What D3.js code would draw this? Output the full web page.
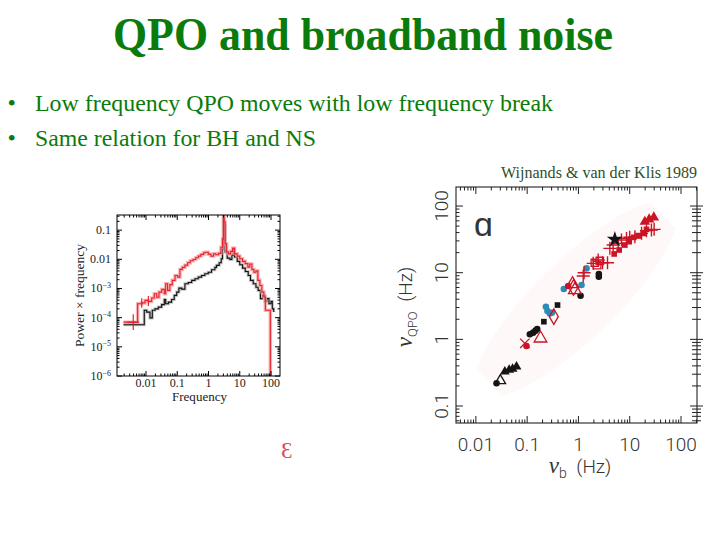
<!DOCTYPE html>
<html><head><meta charset="utf-8">
<script src="https://cdn.jsdelivr.net/npm/d3@7"></script>
<style>html,body{margin:0;padding:0;background:#fff}svg{display:block}</style>
</head><body>
<svg id="c" width="720" height="540"></svg>
<script>
// ---------- slide text ----------
const titleText = "QPO and broadband noise";
const bulletTexts = ["Low frequency QPO moves with low frequency break", "Same relation for BH and NS"];
const citationText = "Wijnands & van der Klis 1989";

// ---------- left panel: power spectra ----------
const specFreqTicks = [0.01, 0.1, 1, 10, 100];
const specFreqTickLabels = ["0.01", "0.1", "1", "10", "100"];
const specPowerTicks = [1e-6, 1e-5, 1e-4, 1e-3, 0.01, 0.1];
const specPowerTickLabels = ["10^-6", "10^-5", "10^-4", "10^-3", "0.01", "0.1"];
const specXLabel = "Frequency";
const specYLabel = "Power \u00d7 frequency";

const blackFreq = [0.0019, 0.0088, 0.0105, 0.0134, 0.0159, 0.0194, 0.0248, 0.0317, 0.0385, 0.0425, 0.052, 0.066, 0.08, 0.096, 0.113, 0.138, 0.176, 0.225, 0.29, 0.37, 0.47, 0.6, 0.76, 0.98, 1.25, 1.6, 1.8, 2.2, 2.55, 2.8, 3.0, 3.15, 3.4, 3.97, 4.85, 5.6, 6.2, 6.8, 8.3, 10, 12.3, 15, 18.6, 22, 27, 33, 38.7, 46, 53.6, 63.6, 73, 86, 100, 110, 122];
const blackPower = [5.7e-5, 1.8e-4, 1.55e-4, 9.8e-5, 1.8e-4, 2.0e-4, 2.3e-4, 2.8e-4, 4.2e-4, 3.0e-4, 3.4e-4, 4.2e-4, 5.8e-4, 7.5e-4, 1.03e-3, 9.5e-4, 1.45e-3, 1.6e-3, 1.9e-3, 2.15e-3, 2.45e-3, 2.8e-3, 3.2e-3, 3.6e-3, 4.4e-3, 5.3e-3, 6.2e-3, 7.6e-3, 0.0104, 0.0229, 0.24, 0.144, 0.0177, 0.011, 0.0099, 0.0136, 0.024, 0.012, 0.0085, 6.5e-3, 5.0e-3, 3.8e-3, 2.8e-3, 1.9e-3, 1.45e-3, 1.1e-3, 8.6e-4, 4.5e-4, 5.8e-4, 3.6e-4, 4.5e-4, 3.0e-4, 3.6e-4, 2.0e-4, 1.55e-4];

const redFreq = [0.0019, 0.0054, 0.0073, 0.0093, 0.0119, 0.0152, 0.0184, 0.022, 0.026, 0.032, 0.0385, 0.0425, 0.049, 0.058, 0.069, 0.085, 0.103, 0.122, 0.145, 0.176, 0.215, 0.26, 0.32, 0.39, 0.47, 0.57, 0.70, 0.8, 0.98, 1.2, 1.45, 1.7, 2.1, 2.5, 2.8, 3.0, 3.15, 3.4, 3.8, 4.4, 5.1, 5.9, 6.8, 8.3, 10, 12.3, 15, 18.2, 21, 24.5, 28.4, 33, 38, 44, 51, 59, 66, 95, 96];
const redPower = [7e-5, 3e-4, 3.2e-4, 3.9e-4, 3.6e-4, 4.7e-4, 6.6e-4, 5.0e-4, 7.5e-4, 9.3e-4, 6.6e-4, 1.45e-3, 8.6e-4, 1.35e-3, 1.9e-3, 2.8e-3, 2.45e-3, 4.5e-3, 5.3e-3, 6.3e-3, 7.6e-3, 8.9e-3, 9.9e-3, 0.0113, 0.0129, 0.0147, 0.0167, 0.0175, 0.015, 0.0129, 0.0155, 0.0143, 0.016, 0.026, 0.05, 0.4, 0.19, 0.034, 0.0177, 0.0154, 0.0187, 0.024, 0.0154, 0.0129, 0.0104, 0.0085, 7.1e-3, 5.4e-3, 6.9e-3, 4.5e-3, 3.6e-3, 4.0e-3, 1.9e-3, 1.27e-3, 7.5e-4, 5.1e-4, 1.8e-4, 3e-7, 3e-7];

const redErrFreq = [0.0039, 0.0073, 0.0119];
const redErrLo = [3.8e-5, 2.2e-4, 2.5e-4];
const redErrHi = [1.3e-4, 4.6e-4, 5.5e-4];

// ---------- right panel: nu_QPO vs nu_b ----------
const nubTicks = [0.01, 0.1, 1, 10, 100];
const nubTickLabels = ["0.01", "0.1", "1", "10", "100"];
const nuqTicks = [0.1, 1, 10, 100];
const nuqTickLabels = ["0.1", "1", "10", "100"];
const panelLetter = "\u0251";

const blackCircleB = [0.0253, 0.113, 0.131, 0.146, 0.157, 1.1, 2.5, 2.5];
const blackCircleQ = [0.219, 1.19, 1.26, 1.35, 1.43, 4.52, 8.7, 9.55];
const blackOpenTriB = [0.030];
const blackOpenTriQ = [0.24];
const blackTriB = [0.0367, 0.0446, 0.052, 0.062];
const blackTriQ = [0.327, 0.347, 0.359, 0.389];
const blackSquareB = [0.212, 0.391];
const blackSquareQ = [1.84, 3.27];
const blackStarB = [5.13];
const blackStarQ = [31.6];
const blueCircleB = [0.232, 0.249, 0.277, 0.303, 0.519, 1.15, 1.44];
const blueCircleQ = [3.09, 2.66, 2.45, 2.51, 5.69, 6.53, 11.6];
const redCircleB = [0.097, 0.631];
const redCircleQ = [0.794, 6.31];
const redAsteriskB = [0.090];
const redAsteriskQ = [0.871];
const redOpenTriB = [0.182, 0.766, 0.851];
const redOpenTriQ = [1.035, 6.76, 5.5];
const redOpenDiamondB = [0.331, 0.80];
const redOpenDiamondQ = [2.19, 6.0];
const redOpenSquareB = [2.09, 2.32, 2.61];
const redOpenSquareQ = [14.1, 13.0, 15.0];
const redPlusB = [1.24, 1.29, 1.94, 2.43, 2.95, 3.69, 4.1, 4.75, 5.96, 6.9, 8.65, 10, 12.6, 17, 21.2, 26.5, 29.9];
const redPlusQ = [8.9, 10, 13.8, 15.5, 14.1, 14.1, 23.2, 26, 27.5, 31, 32.7, 34, 34.7, 38.9, 42.7, 43.7, 44.7];
const redSquareB = [4.97, 6.22, 8.03, 9.75, 12, 14.6, 18.3, 21.2];
const redSquareQ = [19.1, 21.9, 26, 29.2, 33.9, 35.5, 38.9, 44.7];
const redTriB = [19.7, 23.9, 29.5];
const redTriQ = [58.2, 63, 67.6];

// ================= drawing =================
const svg = d3.select("#c");
const GREEN = "#0b7b0b";
const SERIF = "'Liberation Serif','Times New Roman',serif";
const SANS = "Roboto,'Liberation Sans',Arial,sans-serif";

// title & bullets
svg.append("text").attr("x", 113).attr("y", 50)
  .attr("font-family", SERIF).attr("font-weight", "bold").attr("font-size", 46)
  .attr("fill", GREEN).attr("textLength", 500).attr("lengthAdjust", "spacingAndGlyphs")
  .text(titleText);
const bulletBase = [111, 146];
const bulletLen = [518, 281];
bulletTexts.forEach((t, i) => {
  svg.append("text").attr("x", 7.5).attr("y", bulletBase[i]).attr("font-family", SERIF)
    .attr("font-size", 24).attr("fill", GREEN).text("\u2022");
  svg.append("text").attr("x", 35).attr("y", bulletBase[i]).attr("font-family", SERIF)
    .attr("font-size", 24).attr("fill", GREEN).attr("textLength", bulletLen[i])
    .attr("lengthAdjust", "spacingAndGlyphs").text(t);
});
svg.append("text").attr("x", 501).attr("y", 178).attr("font-family", SERIF)
  .attr("font-size", 16).attr("fill", "#2d4f2d").attr("textLength", 196)
  .attr("lengthAdjust", "spacingAndGlyphs").text(citationText);

function isMajor(v) { const l = Math.log10(v); return Math.abs(l - Math.round(l)) < 1e-6; }

// ---------- left panel ----------
const lx = d3.scaleLog().domain([0.00118, 194]).range([117, 280]);
const ly = d3.scaleLog().domain([1e-6, 0.33]).range([376, 215]);
const lp = svg.append("g");
lp.append("clipPath").attr("id", "lclip").append("rect")
  .attr("x", 117).attr("y", 215).attr("width", 163).attr("height", 161);

const stepLine = d3.line().x(d => lx(d[0])).y(d => ly(d[1])).curve(d3.curveStepAfter);
const blackData = blackFreq.map((f, i) => [f, blackPower[i]]);
const redData = redFreq.map((f, i) => [f, redPower[i]]);
const cg = lp.append("g").attr("clip-path", "url(#lclip)");
cg.append("path").attr("d", stepLine(blackData)).attr("fill", "none")
  .attr("stroke", "#9a9a9a").attr("stroke-width", 3).attr("stroke-opacity", 0.6);
cg.append("path").attr("d", stepLine(blackData)).attr("fill", "none")
  .attr("stroke", "#111").attr("stroke-width", 1.1);
cg.append("path").attr("d", stepLine(redData)).attr("fill", "none")
  .attr("stroke", "#f49a9e").attr("stroke-width", 3.5).attr("stroke-opacity", 0.75);
cg.append("path").attr("d", stepLine(redData)).attr("fill", "none")
  .attr("stroke", "#e8202a").attr("stroke-width", 1.1);
redErrFreq.forEach((f, i) => {
  cg.append("line").attr("x1", lx(f)).attr("x2", lx(f))
    .attr("y1", ly(redErrLo[i])).attr("y2", ly(redErrHi[i]))
    .attr("stroke", "#e8202a").attr("stroke-width", 1.2);
});
cg.append("line").attr("x1", lx(redErrFreq[0]) - 6).attr("x2", lx(redErrFreq[0]) + 6)
  .attr("y1", ly(7e-5)).attr("y2", ly(7e-5)).attr("stroke", "#e8202a").attr("stroke-width", 1.2);

// left frame & ticks
lp.append("rect").attr("x", 117).attr("y", 215).attr("width", 163).attr("height", 161)
  .attr("fill", "none").attr("stroke", "#000").attr("stroke-width", 1);
lx.ticks().forEach(v => {
  const x = lx(v), len = isMajor(v) ? 5 : 2.5;
  lp.append("line").attr("x1", x).attr("x2", x).attr("y1", 376).attr("y2", 376 - len).attr("stroke", "#000");
  lp.append("line").attr("x1", x).attr("x2", x).attr("y1", 215).attr("y2", 215 + len).attr("stroke", "#000");
});
ly.ticks().forEach(v => {
  const y = ly(v), len = isMajor(v) ? 5 : 2.5;
  lp.append("line").attr("x1", 117).attr("x2", 117 + len).attr("y1", y).attr("y2", y).attr("stroke", "#000");
  lp.append("line").attr("x1", 280).attr("x2", 280 - len).attr("y1", y).attr("y2", y).attr("stroke", "#000");
});
specFreqTicks.forEach((v, i) => {
  lp.append("text").attr("x", lx(v)).attr("y", 387).attr("text-anchor", "middle")
    .attr("font-family", SERIF).attr("font-size", 12).attr("fill", "#222").text(specFreqTickLabels[i]);
});
specPowerTicks.forEach((v, i) => {
  const lab = specPowerTickLabels[i];
  const t = lp.append("text").attr("x", 111).attr("y", ly(v) + 4).attr("text-anchor", "end")
    .attr("font-family", SERIF).attr("font-size", 12).attr("fill", "#222");
  if (lab.includes("^")) {
    const [b, e] = lab.split("^");
    t.append("tspan").text(b);
    t.append("tspan").attr("dy", -4.5).attr("font-size", 8).text(e.replace("-", "\u2212"));
  } else t.text(lab);
});
lp.append("text").attr("x", 199.5).attr("y", 401).attr("text-anchor", "middle")
  .attr("font-family", SERIF).attr("font-size", 12).attr("fill", "#222")
  .attr("textLength", 55).attr("lengthAdjust", "spacingAndGlyphs").text(specXLabel);
lp.append("text").attr("transform", "translate(84,295.5) rotate(-90)").attr("text-anchor", "middle")
  .attr("font-family", SERIF).attr("font-size", 12.5).attr("fill", "#222")
  .attr("textLength", 103).attr("lengthAdjust", "spacingAndGlyphs").text(specYLabel);

// small red glyph below left panel
svg.append("text").attr("x", 281).attr("y", 458).attr("font-family", SERIF)
  .attr("font-size", 23).attr("fill", "#d9505c").text("\u0190");

// ---------- right panel ----------
const rx = d3.scaleLog().domain([0.0041, 205]).range([456, 697]);
const ry = d3.scaleLog().domain([0.0556, 193]).range([423, 187]);
const rp = svg.append("g");
rp.append("clipPath").attr("id", "rclip").append("rect")
  .attr("x", 456).attr("y", 187).attr("width", 241).attr("height", 236);
// faint background band
rp.append("ellipse").attr("clip-path", "url(#rclip)")
  .attr("cx", rx(0.9)).attr("cy", ry(4)).attr("rx", 135).attr("ry", 40)
  .attr("transform", `rotate(-44 ${rx(0.9)} ${ry(4)})`).attr("fill", "#fef8f8");

rp.append("rect").attr("x", 456).attr("y", 187).attr("width", 241).attr("height", 236)
  .attr("fill", "none").attr("stroke", "#222").attr("stroke-width", 1.1);
rx.ticks().forEach(v => {
  const x = rx(v), len = isMajor(v) ? 7 : 3.5;
  rp.append("line").attr("x1", x).attr("x2", x).attr("y1", 423).attr("y2", 423 - len).attr("stroke", "#222");
  rp.append("line").attr("x1", x).attr("x2", x).attr("y1", 187).attr("y2", 187 + len).attr("stroke", "#222");
});
ry.ticks().forEach(v => {
  const y = ry(v), maj = isMajor(v), len = maj ? 7 : 3.5;
  rp.append("line").attr("x1", 456).attr("x2", 456 + len).attr("y1", y).attr("y2", y).attr("stroke", "#222");
  rp.append("line").attr("x1", maj ? 690 : 692).attr("x2", maj ? 703 : 701).attr("y1", y).attr("y2", y).attr("stroke", "#222");
});
nubTicks.forEach((v, i) => {
  rp.append("text").attr("x", rx(v)).attr("y", 451).attr("text-anchor", "middle")
    .attr("font-family", SANS).attr("font-weight", 300).attr("font-size", 19).attr("fill", "#333")
    .text(nubTickLabels[i]);
});
nuqTicks.forEach((v, i) => {
  rp.append("text").attr("transform", `translate(447.5,${ry(v)}) rotate(-90)`).attr("text-anchor", "middle")
    .attr("font-family", SANS).attr("font-weight", 300).attr("font-size", 19).attr("fill", "#333")
    .text(nuqTickLabels[i]);
});
// axis titles
const yt = rp.append("text").attr("transform", "translate(412,307) rotate(-90)").attr("text-anchor", "middle")
  .attr("font-family", SANS).attr("font-weight", 300).attr("font-size", 19).attr("fill", "#333");
yt.append("tspan").attr("font-family", SERIF).attr("font-style", "italic").attr("font-size", 23).text("\u03bd");
yt.append("tspan").attr("dy", 5).attr("font-size", 13).text("QPO");
yt.append("tspan").attr("dy", -5).text("\u2002(Hz)");
const xt = rp.append("text").attr("x", 580).attr("y", 473).attr("text-anchor", "middle")
  .attr("font-family", SANS).attr("font-weight", 300).attr("font-size", 19).attr("fill", "#333");
xt.append("tspan").attr("font-family", SERIF).attr("font-style", "italic").attr("font-size", 23).text("\u03bd");
xt.append("tspan").attr("dy", 5).attr("font-size", 14).text("b");
xt.append("tspan").attr("dy", -5).text("\u2002(Hz)");
rp.append("text").attr("x", 474).attr("y", 236).attr("font-family", SANS).attr("font-weight", 300)
  .attr("font-size", 34).attr("fill", "#333").text(panelLetter);

// markers
const RED = "#cc1424", BLUE = "#2b8cb8", BLK = "#151515";
const groups = [
  {b: blueCircleB, q: blueCircleQ, type: d3.symbolCircle, size: 34, fill: BLUE},
  {b: blackCircleB, q: blackCircleQ, type: d3.symbolCircle, size: 34, fill: BLK},
  {b: blackOpenTriB, q: blackOpenTriQ, type: d3.symbolTriangle, size: 48, stroke: BLK},
  {b: blackTriB, q: blackTriQ, type: d3.symbolTriangle, size: 42, fill: BLK},
  {b: blackSquareB, q: blackSquareQ, type: d3.symbolSquare, size: 32, fill: BLK},
  {b: redCircleB, q: redCircleQ, type: d3.symbolCircle, size: 34, fill: RED},
  {b: redAsteriskB, q: redAsteriskQ, type: d3.symbolX, size: 60, stroke: RED},
  {b: redOpenTriB, q: redOpenTriQ, type: d3.symbolTriangle, size: 70, stroke: RED},
  {b: redOpenDiamondB, q: redOpenDiamondQ, type: d3.symbolDiamond, size: 70, stroke: RED},
  {b: redOpenSquareB, q: redOpenSquareQ, type: d3.symbolSquare, size: 55, stroke: RED},
  {b: redSquareB, q: redSquareQ, type: d3.symbolSquare, size: 32, fill: RED},
  {b: redPlusB, q: redPlusQ, type: d3.symbolCross, size: 0, plus: true, stroke: RED},
  {b: redTriB, q: redTriQ, type: d3.symbolTriangle, size: 48, fill: RED},
  {b: blackStarB, q: blackStarQ, type: d3.symbolStar, size: 80, fill: BLK},
];
const mg = rp.append("g").attr("clip-path", "url(#rclip)");
groups.forEach(g => {
  g.b.forEach((bv, i) => {
    const x = rx(bv), y = ry(g.q[i]);
    if (g.plus) {
      mg.append("path").attr("d", `M${x - 6.5},${y}H${x + 6.5}M${x},${y - 6.5}V${y + 6.5}`)
        .attr("stroke", g.stroke).attr("stroke-width", 1.4).attr("fill", "none");
      return;
    }
    mg.append("path").attr("d", d3.symbol().type(g.type).size(g.size)())
      .attr("transform", `translate(${x},${y})`)
      .attr("fill", g.fill || "none").attr("stroke", g.stroke || "none").attr("stroke-width", 1.3);
  });
});
</script>
</body></html>
